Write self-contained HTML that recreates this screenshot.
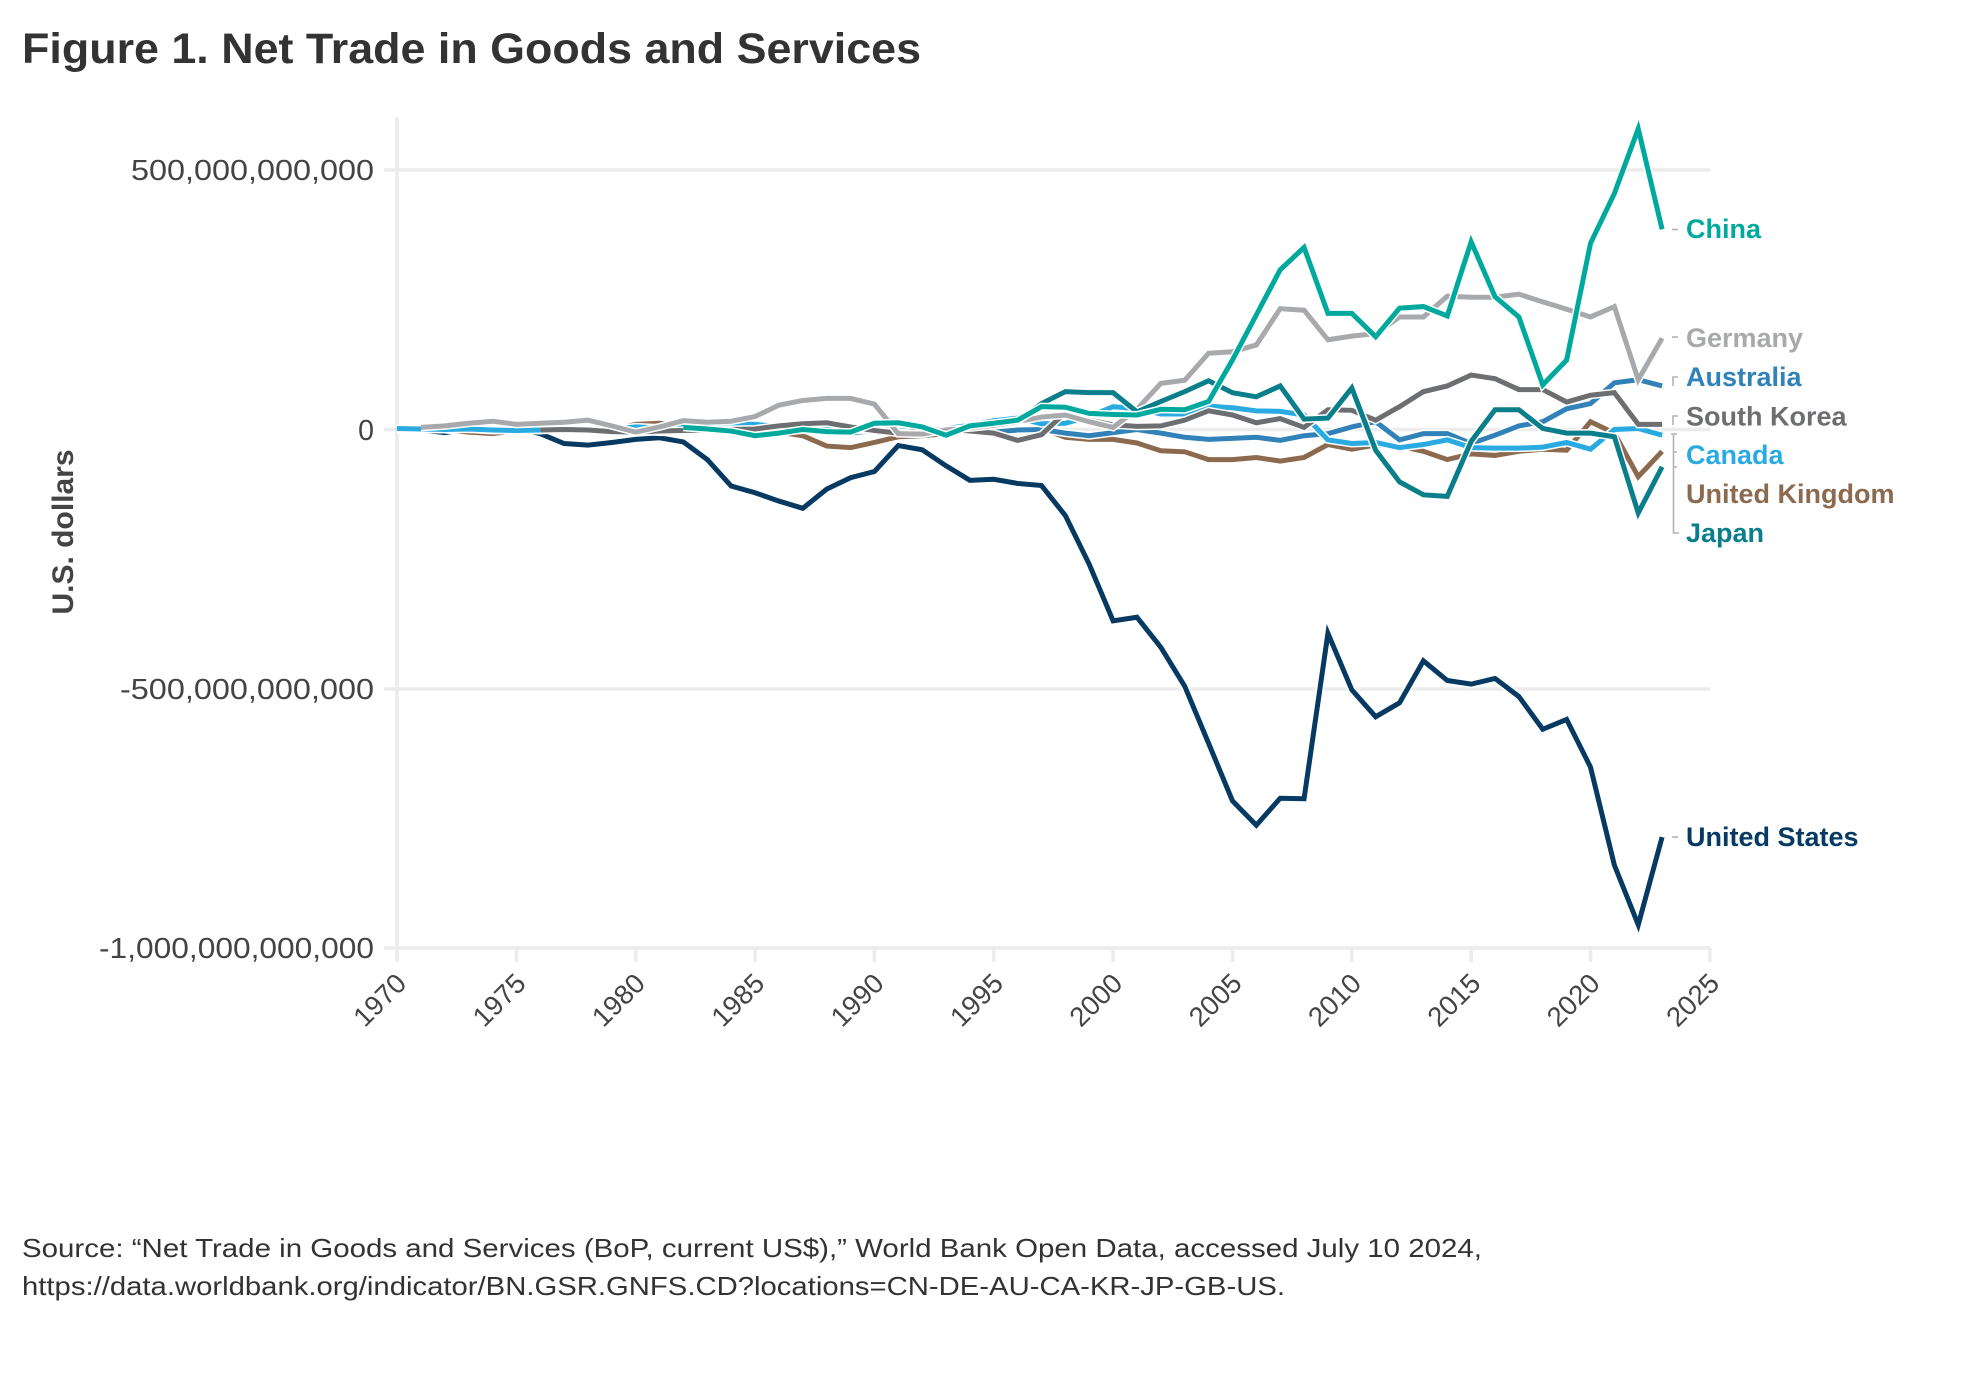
<!DOCTYPE html>
<html>
<head>
<meta charset="utf-8">
<style>
  html, body { margin: 0; padding: 0; background: #ffffff; }
  svg { display: block; }
  text { font-family: "Liberation Sans", Arial, sans-serif; }
</style>
</head>
<body>
<svg width="1988" height="1400" viewBox="0 0 1988 1400" xmlns="http://www.w3.org/2000/svg">
  <rect x="0" y="0" width="1988" height="1400" fill="#ffffff"/>

  <!-- Title -->
  <text x="22" y="63" font-size="42.5" font-weight="bold" fill="#333333" textLength="899" lengthAdjust="spacingAndGlyphs">Figure 1. Net Trade in Goods and Services</text>

  <!-- Gridlines -->
  <g stroke="#ececec" stroke-width="3.5" fill="none">
    <line x1="384" y1="170" x2="1710" y2="170"/>
    <line x1="384" y1="429.5" x2="1710" y2="429.5"/>
    <line x1="384" y1="689" x2="1710" y2="689"/>
    <line x1="384" y1="948" x2="1710" y2="948"/>
    <line x1="397" y1="117" x2="397" y2="962"/>
    <line x1="516.4" y1="948" x2="516.4" y2="962"/>
    <line x1="635.7" y1="948" x2="635.7" y2="962"/>
    <line x1="755.1" y1="948" x2="755.1" y2="962"/>
    <line x1="874.4" y1="948" x2="874.4" y2="962"/>
    <line x1="993.8" y1="948" x2="993.8" y2="962"/>
    <line x1="1113.1" y1="948" x2="1113.1" y2="962"/>
    <line x1="1232.5" y1="948" x2="1232.5" y2="962"/>
    <line x1="1351.8" y1="948" x2="1351.8" y2="962"/>
    <line x1="1471.2" y1="948" x2="1471.2" y2="962"/>
    <line x1="1590.5" y1="948" x2="1590.5" y2="962"/>
    <line x1="1709.9" y1="948" x2="1709.9" y2="962"/>
  </g>

  <!-- Y tick labels -->
  <g font-size="28.5" fill="#444444" text-anchor="end">
    <text x="374" y="180" textLength="243" lengthAdjust="spacingAndGlyphs">500,000,000,000</text>
    <text x="374" y="440">0</text>
    <text x="374" y="699" textLength="254" lengthAdjust="spacingAndGlyphs">-500,000,000,000</text>
    <text x="374" y="958" textLength="275" lengthAdjust="spacingAndGlyphs">-1,000,000,000,000</text>
  </g>

  <!-- Y axis title -->
  <text transform="translate(73,532) rotate(-90)" text-anchor="middle" font-size="30" font-weight="bold" fill="#444444">U.S. dollars</text>

  <!-- X tick labels -->
  <g font-size="27.5" fill="#444444" text-anchor="end">
    <text transform="translate(408,985) rotate(-45)">1970</text>
    <text transform="translate(527.4,985) rotate(-45)">1975</text>
    <text transform="translate(646.7,985) rotate(-45)">1980</text>
    <text transform="translate(766.1,985) rotate(-45)">1985</text>
    <text transform="translate(885.4,985) rotate(-45)">1990</text>
    <text transform="translate(1004.8,985) rotate(-45)">1995</text>
    <text transform="translate(1124.1,985) rotate(-45)">2000</text>
    <text transform="translate(1243.5,985) rotate(-45)">2005</text>
    <text transform="translate(1362.8,985) rotate(-45)">2010</text>
    <text transform="translate(1482.2,985) rotate(-45)">2015</text>
    <text transform="translate(1601.5,985) rotate(-45)">2020</text>
    <text transform="translate(1720.9,985) rotate(-45)">2025</text>
  </g>

  <!-- Series -->
  <g transform="translate(397,429.5) scale(23.87,-0.5186)" fill="none" stroke-linejoin="miter" stroke-linecap="butt">
    <!-- United States -->
    <polyline vector-effect="non-scaling-stroke" stroke="#ffffff" stroke-width="8" points="0,2 1,-1 2,-6 3,0 4,-2 5,2 6,-8 7,-27 8,-30 9,-25 10,-19 11,-16 12,-24 13,-58 14,-109 15,-122 16,-138 17,-152 18,-115 19,-93 20,-81 21,-31 22,-39 23,-70 24,-98 25,-96 26,-104 27,-108 28,-166 29,-260 30,-369 31,-362 32,-420 33,-495 34,-605 35,-716 36,-763 37,-711 38,-712 39,-393 40,-502 41,-554 42,-527 43,-446 44,-484 45,-491 46,-480 47,-515 48,-578 49,-559 50,-651 51,-840 52,-955 53,-786"/>
    <polyline vector-effect="non-scaling-stroke" stroke="#063a63" stroke-width="5" points="0,2 1,-1 2,-6 3,0 4,-2 5,2 6,-8 7,-27 8,-30 9,-25 10,-19 11,-16 12,-24 13,-58 14,-109 15,-122 16,-138 17,-152 18,-115 19,-93 20,-81 21,-31 22,-39 23,-70 24,-98 25,-96 26,-104 27,-108 28,-166 29,-260 30,-369 31,-362 32,-420 33,-495 34,-605 35,-716 36,-763 37,-711 38,-712 39,-393 40,-502 41,-554 42,-527 43,-446 44,-484 45,-491 46,-480 47,-515 48,-578 49,-559 50,-651 51,-840 52,-955 53,-786"/>
    <!-- United Kingdom -->
    <polyline vector-effect="non-scaling-stroke" stroke="#ffffff" stroke-width="8" points="0,1 1,2 2,0 3,-5 4,-8 5,-2 6,-2 7,2 8,3 9,-1 10,10 11,12 12,6 13,1 14,-3 15,0 16,-5 17,-12 18,-32 19,-35 20,-25 21,-14 22,-12 23,-8 24,-5 25,-4 26,-4 27,2 28,-15 29,-19 30,-19 31,-26 32,-41 33,-43 34,-58 35,-58 36,-54 37,-61 38,-54 39,-29 40,-38 41,-30 42,-32 43,-42 44,-58 45,-47 46,-50 47,-42 48,-38 49,-40 50,15 51,-7 52,-91 53,-42"/>
    <polyline vector-effect="non-scaling-stroke" stroke="#8c6a4f" stroke-width="5" points="0,1 1,2 2,0 3,-5 4,-8 5,-2 6,-2 7,2 8,3 9,-1 10,10 11,12 12,6 13,1 14,-3 15,0 16,-5 17,-12 18,-32 19,-35 20,-25 21,-14 22,-12 23,-8 24,-5 25,-4 26,-4 27,2 28,-15 29,-19 30,-19 31,-26 32,-41 33,-43 34,-58 35,-58 36,-54 37,-61 38,-54 39,-29 40,-38 41,-30 42,-32 43,-42 44,-58 45,-47 46,-50 47,-42 48,-38 49,-40 50,15 51,-7 52,-91 53,-42"/>
    <!-- Australia -->
    <polyline vector-effect="non-scaling-stroke" stroke="#ffffff" stroke-width="8" points="0,0 1,0 2,1 3,1 4,-2 5,-1 6,-1 7,-2 8,-2 9,0 10,-2 11,-5 12,-4 13,-1 14,-3 15,-2 16,-3 17,-1 18,-3 19,-7 20,-2 21,1 22,-1 23,-2 24,-5 25,-5 26,-1 27,0 28,-7 29,-12 30,-6 31,0 32,-7 33,-15 34,-19 35,-17 36,-15 37,-21 38,-12 39,-8 40,5 41,15 42,-20 43,-8 44,-8 45,-27 46,-11 47,7 48,15 49,40 50,50 51,90 52,96 53,84"/>
    <polyline vector-effect="non-scaling-stroke" stroke="#3182b8" stroke-width="5" points="0,0 1,0 2,1 3,1 4,-2 5,-1 6,-1 7,-2 8,-2 9,0 10,-2 11,-5 12,-4 13,-1 14,-3 15,-2 16,-3 17,-1 18,-3 19,-7 20,-2 21,1 22,-1 23,-2 24,-5 25,-5 26,-1 27,0 28,-7 29,-12 30,-6 31,0 32,-7 33,-15 34,-19 35,-17 36,-15 37,-21 38,-12 39,-8 40,5 41,15 42,-20 43,-8 44,-8 45,-27 46,-11 47,7 48,15 49,40 50,50 51,90 52,96 53,84"/>
    <!-- Canada -->
    <polyline vector-effect="non-scaling-stroke" stroke="#ffffff" stroke-width="8" points="0,2 1,1 2,0 3,1 4,-1 5,-2 6,-1 7,0 8,1 9,0 10,5 11,3 12,10 13,9 14,12 15,10 16,5 17,6 18,5 19,-2 20,0 21,-3 22,0 23,2 24,8 25,17 26,22 27,11 28,12 29,25 30,44 31,40 32,30 33,30 34,45 35,42 36,36 37,35 38,28 39,-20 40,-27 41,-25 42,-35 43,-29 44,-20 45,-35 46,-36 47,-36 48,-34 49,-25 50,-38 51,0 52,2 53,-11"/>
    <polyline vector-effect="non-scaling-stroke" stroke="#29abe2" stroke-width="5" points="0,2 1,1 2,0 3,1 4,-1 5,-2 6,-1 7,0 8,1 9,0 10,5 11,3 12,10 13,9 14,12 15,10 16,5 17,6 18,5 19,-2 20,0 21,-3 22,0 23,2 24,8 25,17 26,22 27,11 28,12 29,25 30,44 31,40 32,30 33,30 34,45 35,42 36,36 37,35 38,28 39,-20 40,-27 41,-25 42,-35 43,-29 44,-20 45,-35 46,-36 47,-36 48,-34 49,-25 50,-38 51,0 52,2 53,-11"/>
    <!-- South Korea -->
    <polyline vector-effect="non-scaling-stroke" stroke="#ffffff" stroke-width="8" points="6,-1 7,0 8,-1 9,-4 10,-5 11,-3 12,-2 13,-1 14,0 15,1 16,7 17,11 18,13 19,5 20,-2 21,-7 22,-3 23,1 24,-3 25,-7 26,-21 27,-10 28,33 29,18 30,9 31,6 32,7 33,18 34,36 35,28 36,13 37,21 38,4 39,38 40,37 41,18 42,44 43,73 44,84 45,105 46,98 47,77 48,77 49,53 50,66 51,71 52,10 53,10"/>
    <polyline vector-effect="non-scaling-stroke" stroke="#6d6e71" stroke-width="5" points="6,-1 7,0 8,-1 9,-4 10,-5 11,-3 12,-2 13,-1 14,0 15,1 16,7 17,11 18,13 19,5 20,-2 21,-7 22,-3 23,1 24,-3 25,-7 26,-21 27,-10 28,33 29,18 30,9 31,6 32,7 33,18 34,36 35,28 36,13 37,21 38,4 39,38 40,37 41,18 42,44 43,73 44,84 45,105 46,98 47,77 48,77 49,53 50,66 51,71 52,10 53,10"/>
    <!-- Germany -->
    <polyline vector-effect="non-scaling-stroke" stroke="#ffffff" stroke-width="8" points="1,4 2,7 3,12 4,16 5,10 6,12 7,14 8,18 9,7 10,-5 11,5 12,17 13,14 14,16 15,25 16,47 17,56 18,60 19,60 20,49 21,-8 22,-9 23,-1 24,3 25,8 26,15 27,24 28,28 29,15 30,4 31,39 32,89 33,95 34,147 35,150 36,163 37,233 38,230 39,173 40,180 41,185 42,217 43,217 44,257 45,255 46,255 47,261 48,246 49,232 50,217 51,237 52,96 53,176"/>
    <polyline vector-effect="non-scaling-stroke" stroke="#a7a9ac" stroke-width="5" points="1,4 2,7 3,12 4,16 5,10 6,12 7,14 8,18 9,7 10,-5 11,5 12,17 13,14 14,16 15,25 16,47 17,56 18,60 19,60 20,49 21,-8 22,-9 23,-1 24,3 25,8 26,15 27,24 28,28 29,15 30,4 31,39 32,89 33,95 34,147 35,150 36,163 37,233 38,230 39,173 40,180 41,185 42,217 43,217 44,257 45,255 46,255 47,261 48,246 49,232 50,217 51,237 52,96 53,176"/>
    <!-- Japan -->
    <polyline vector-effect="non-scaling-stroke" stroke="#ffffff" stroke-width="8" points="26,15 27,50 28,73 29,71 30,71 31,34 32,54 33,73 34,94 35,71 36,63 37,84 38,20 39,22 40,80 41,-40 42,-101 43,-126 44,-129 45,-23 46,38 47,38 48,2 49,-7 50,-7 51,-14 52,-161 53,-72"/>
    <polyline vector-effect="non-scaling-stroke" stroke="#0a7e8a" stroke-width="5" points="26,15 27,50 28,73 29,71 30,71 31,34 32,54 33,73 34,94 35,71 36,63 37,84 38,20 39,22 40,80 41,-40 42,-101 43,-126 44,-129 45,-23 46,38 47,38 48,2 49,-7 50,-7 51,-14 52,-161 53,-72"/>
    <!-- China -->
    <polyline vector-effect="non-scaling-stroke" stroke="#ffffff" stroke-width="8" points="12,4 13,1 14,-3 15,-12 16,-7 17,0 18,-4 19,-5 20,12 21,13 22,5 23,-11 24,7 25,12 26,18 27,44 28,43 29,31 30,29 31,28 32,39 33,38 34,54 35,134 36,221 37,308 38,351 39,224 40,224 41,179 42,234 43,237 44,219 45,362 46,256 47,217 48,86 49,134 50,359 51,455 52,580 53,386"/>
    <polyline vector-effect="non-scaling-stroke" stroke="#00a99d" stroke-width="5" points="12,4 13,1 14,-3 15,-12 16,-7 17,0 18,-4 19,-5 20,12 21,13 22,5 23,-11 24,7 25,12 26,18 27,44 28,43 29,31 30,29 31,28 32,39 33,38 34,54 35,134 36,221 37,308 38,351 39,224 40,224 41,179 42,234 43,237 44,219 45,362 46,256 47,217 48,86 49,134 50,359 51,455 52,580 53,386"/>
  </g>

  <!-- Label connectors -->
  <g stroke="#b3b3b3" stroke-width="1.6" fill="none">
    <path d="M1672,229.5 H1678"/>
    <path d="M1672,337 H1678"/>
    <path d="M1673,386 V377 H1678"/>
    <path d="M1673,425 V416 H1678"/>
    <path d="M1671,434 H1677 M1673.5,434 V533 H1679 M1673.5,452 H1677 M1673.5,467 H1677"/>
    <path d="M1672,837 H1678"/>
  </g>

  <!-- Series labels -->
  <g font-size="27" font-weight="bold">
    <text x="1686" y="238" fill="#00a99d">China</text>
    <text x="1686" y="347" fill="#a7a9ac">Germany</text>
    <text x="1686" y="386" fill="#3182b8">Australia</text>
    <text x="1686" y="425.5" fill="#6d6e71">South Korea</text>
    <text x="1686" y="464" fill="#29abe2">Canada</text>
    <text x="1686" y="503" fill="#8c6a4f">United Kingdom</text>
    <text x="1686" y="542" fill="#0a7e8a">Japan</text>
    <text x="1686" y="846" fill="#063a63">United States</text>
  </g>

  <!-- Source -->
  <g font-size="26" fill="#333333">
    <text x="22" y="1257" textLength="1460" lengthAdjust="spacingAndGlyphs">Source: &#8220;Net Trade in Goods and Services (BoP, current US$),&#8221; World Bank Open Data, accessed July 10 2024,</text>
    <text x="22" y="1295" textLength="1263" lengthAdjust="spacingAndGlyphs">https://data.worldbank.org/indicator/BN.GSR.GNFS.CD?locations=CN-DE-AU-CA-KR-JP-GB-US.</text>
  </g>
</svg>
</body>
</html>
